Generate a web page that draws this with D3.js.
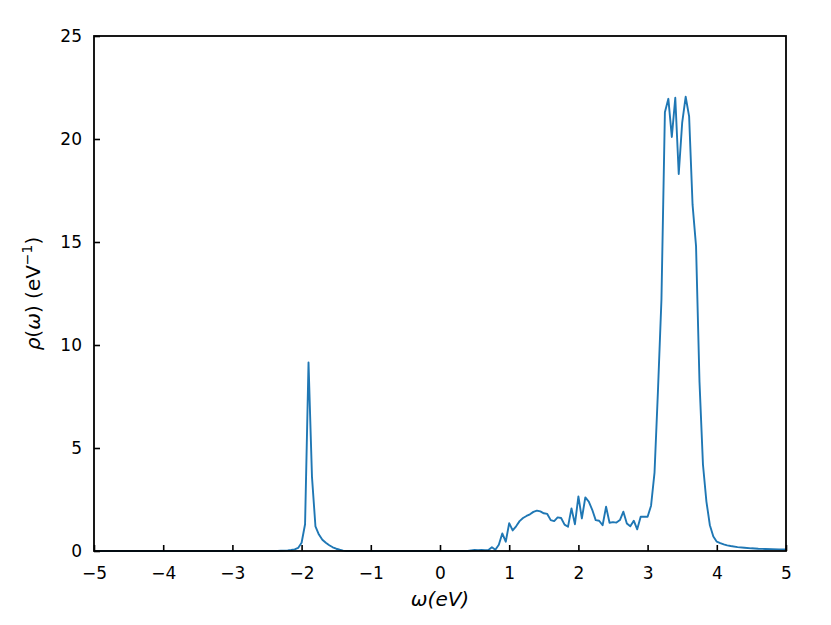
<!DOCTYPE html>
<html>
<head>
<meta charset="utf-8">
<script src="https://cdn.jsdelivr.net/npm/d3@7"></script>
<style>
  body { margin: 0; background: #fff; }
  svg { display: block; }
  text { font-family: "DejaVu Sans", sans-serif; }
</style>
</head>
<body>
<svg id="chart" width="831" height="625"></svg>
<script>
// Energy grid points (eV)
const omega = [
  -5.0, -2.35, -2.3, -2.25, -2.2, -2.15, -2.1, -2.05, -2.0, -1.95, -1.9, -1.85, -1.8, -1.75, -1.7,
  -1.65, -1.6, -1.55, -1.5, -1.45, -1.4, -1.35, 0.4,
  0.45, 0.5, 0.55, 0.6, 0.65, 0.7, 0.75, 0.8, 0.85, 0.9, 0.95, 1.0, 1.05, 1.1, 1.15, 1.2, 1.25,
  1.3, 1.35, 1.4, 1.45, 1.5, 1.55, 1.6, 1.65, 1.7, 1.75, 1.8, 1.85, 1.9, 1.95, 2.0, 2.05, 2.1,
  2.15, 2.2, 2.25, 2.3, 2.35, 2.4, 2.45, 2.5, 2.55, 2.6, 2.65, 2.7, 2.75, 2.8, 2.85, 2.9, 2.95,
  3.0, 3.05, 3.1, 3.15, 3.2, 3.25, 3.3, 3.35, 3.4, 3.45, 3.5, 3.55, 3.6, 3.65, 3.7, 3.75, 3.8,
  3.85, 3.9, 3.95, 4.0, 4.05, 4.1, 4.15, 4.2, 4.3, 4.4, 4.5, 4.6, 4.7, 4.8, 4.9, 5.0
];
// Spectral function rho(omega) (1/eV)
const rho = [
  0.0, 0.0, 0.01, 0.02, 0.03, 0.05, 0.08, 0.15, 0.4, 1.3, 9.15, 3.6, 1.2, 0.8, 0.55,
  0.4, 0.28, 0.18, 0.11, 0.06, 0.02, 0.0, 0.0,
  0.03, 0.05, 0.04, 0.05, 0.04, 0.05, 0.18, 0.06, 0.3, 0.85, 0.45, 1.35, 1.0, 1.2, 1.45, 1.6, 1.7,
  1.78, 1.9, 1.96, 1.92, 1.83, 1.8, 1.5, 1.45, 1.63, 1.6, 1.28, 1.18, 2.07, 1.3, 2.65, 1.58, 2.6,
  2.4, 2.0, 1.5, 1.47, 1.25, 2.15, 1.37, 1.4, 1.38, 1.5, 1.91, 1.34, 1.2, 1.47, 1.05, 1.66, 1.66,
  1.66, 2.2, 3.8, 7.8, 12.2, 21.3, 21.95, 20.1, 22.0, 18.3, 20.8, 22.05, 21.1, 16.8, 14.8, 8.2, 4.2,
  2.4, 1.25, 0.7, 0.45, 0.38, 0.32, 0.27, 0.24, 0.19, 0.16, 0.13, 0.11, 0.1, 0.09, 0.08, 0.07
];
const xTicks = [-5, -4, -3, -2, -1, 0, 1, 2, 3, 4, 5];
const yTicks = [0, 5, 10, 15, 20, 25];

const svg = d3.select("#chart");
const L = 94, R = 786, T = 36, B = 551;
const x = d3.scaleLinear().domain([-5, 5]).range([L, R]);
const y = d3.scaleLinear().domain([0, 25]).range([B, T]);

const data = omega.map((w, i) => ({ w, r: rho[i] }));

svg.append("path")
  .datum(data)
  .attr("fill", "none")
  .attr("stroke", "#1f77b4")
  .attr("stroke-width", 1.9)
  .attr("stroke-linejoin", "round")
  .attr("d", d3.line().x(d => x(d.w)).y(d => y(d.r)));

const fmt = v => (v < 0 ? "\u2212" + Math.abs(v) : String(v));

const xAxis = svg.append("g")
  .attr("transform", `translate(0,${B})`)
  .call(d3.axisBottom(x).tickValues(xTicks).tickFormat(fmt).tickSizeInner(-6).tickSizeOuter(0).tickPadding(16));
const yAxis = svg.append("g")
  .attr("transform", `translate(${L},0)`)
  .call(d3.axisLeft(y).tickValues(yTicks).tickFormat(fmt).tickSizeInner(-6).tickSizeOuter(0).tickPadding(12));

[xAxis, yAxis].forEach(g => {
  g.select(".domain").remove();
  g.selectAll(".tick line").attr("stroke", "#000").attr("stroke-width", 1.6);
  g.selectAll(".tick text").attr("fill", "#000").style("font-size", "17px")
    .style("font-family", "'DejaVu Sans', sans-serif");
});

svg.append("rect")
  .attr("x", L).attr("y", T).attr("width", R - L).attr("height", B - T)
  .attr("fill", "none").attr("stroke", "#000").attr("stroke-width", 1.8);

// x label
const xl = svg.append("text")
  .attr("x", (L + R) / 2).attr("y", 606)
  .attr("text-anchor", "middle")
  .style("font-size", "20px");
xl.append("tspan").attr("font-style", "italic").text("ω(eV)");

// y label
const yl = svg.append("text")
  .attr("transform", `translate(40,${(T + B) / 2}) rotate(-90)`)
  .attr("text-anchor", "middle")
  .style("font-size", "20px");
yl.append("tspan").attr("font-style", "italic").text("ρ");
yl.append("tspan").text("(");
yl.append("tspan").attr("font-style", "italic").text("ω");
yl.append("tspan").text(") (eV");
yl.append("tspan").attr("dy", -8).style("font-size", "14px").text("\u22121");
yl.append("tspan").attr("dy", 8).text(")");
</script>
</body>
</html>
